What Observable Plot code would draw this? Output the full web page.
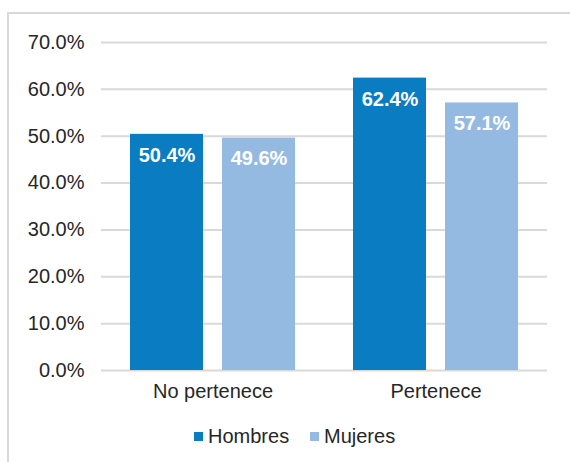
<!DOCTYPE html>
<html>
<head>
<meta charset="utf-8">
<script src="https://cdn.jsdelivr.net/npm/d3@7"></script>
<script src="https://cdn.jsdelivr.net/npm/@observablehq/plot@0.6"></script>
<style>
  html, body { margin: 0; padding: 0; background: #fff; width: 570px; height: 462px; overflow: hidden; }
  body { position: relative; font-family: "Liberation Sans", Arial, sans-serif; }
  #frame { position: absolute; left: 7px; top: 12px; width: 600px; height: 500px;
           border-left: 2px solid #d9d9d9; border-top: 2px solid #d9d9d9; }
  #chart { position: absolute; left: 0; top: 0; }
  #legend { position: absolute; top: 425px; left: 0; width: 570px; height: 22px; }
  .item { position: absolute; top: 0; display: flex; align-items: center; font-size: 20px; color: #262626; line-height: 22px; }
  .sw { width: 9px; height: 9px; margin-right: 5px; }
</style>
</head>
<body>
<div id="frame"></div>
<div id="chart"></div>
<div id="legend"></div>
<script>
const categories = ["No pertenece", "Pertenece"];
const series = ["Hombres", "Mujeres"];
const hombres = [0.504, 0.624];
const mujeres = [0.496, 0.571];
const colors = ["#0a7cc2", "#95bae2"];
const yTicks = [0, 0.1, 0.2, 0.3, 0.4, 0.5, 0.6, 0.7];

const data = [];
categories.forEach((c, i) => {
  data.push({cat: c, sex: series[0], value: hombres[i]});
  data.push({cat: c, sex: series[1], value: mujeres[i]});
});

const fmt = d3.format(".1%");

const chart = Plot.plot({
  width: 570,
  height: 410,
  marginLeft: 100,
  marginRight: 23,
  marginTop: 42,
  marginBottom: 40,
  style: { fontFamily: "Liberation Sans, Arial, sans-serif", fontSize: "20px", color: "#262626", background: "transparent" },
  fx: { domain: categories, paddingInner: 0, paddingOuter: 0, label: null, axis: "bottom", tickSize: 0, tickPadding: 13 },
  x: { domain: series, paddingInner: 0.204, paddingOuter: 0.304, axis: null },
  y: { domain: [0, 0.7], ticks: yTicks, tickFormat: fmt, tickSize: 0, tickPadding: 17, label: null },
  color: { domain: series, range: colors },
  marks: [
    Plot.ruleY(yTicks, { stroke: "#d9d9d9", strokeWidth: 2 }),
    Plot.barY(data, { fx: "cat", x: "sex", y: "value", fill: "sex" }),
    Plot.text(data, { fx: "cat", x: "sex", y: "value", text: d => fmt(d.value), fill: "white",
                      fontWeight: "bold", fontSize: 20, dy: 21 })
  ]
});
document.getElementById("chart").appendChild(chart);

const legend = document.getElementById("legend");
const lx = [194, 310];
series.forEach((s, i) => {
  const item = document.createElement("div");
  item.className = "item";
  item.style.left = lx[i] + "px";
  const sw = document.createElement("span");
  sw.className = "sw";
  sw.style.background = colors[i];
  item.appendChild(sw);
  item.appendChild(document.createTextNode(s));
  legend.appendChild(item);
});
</script>
</body>
</html>
